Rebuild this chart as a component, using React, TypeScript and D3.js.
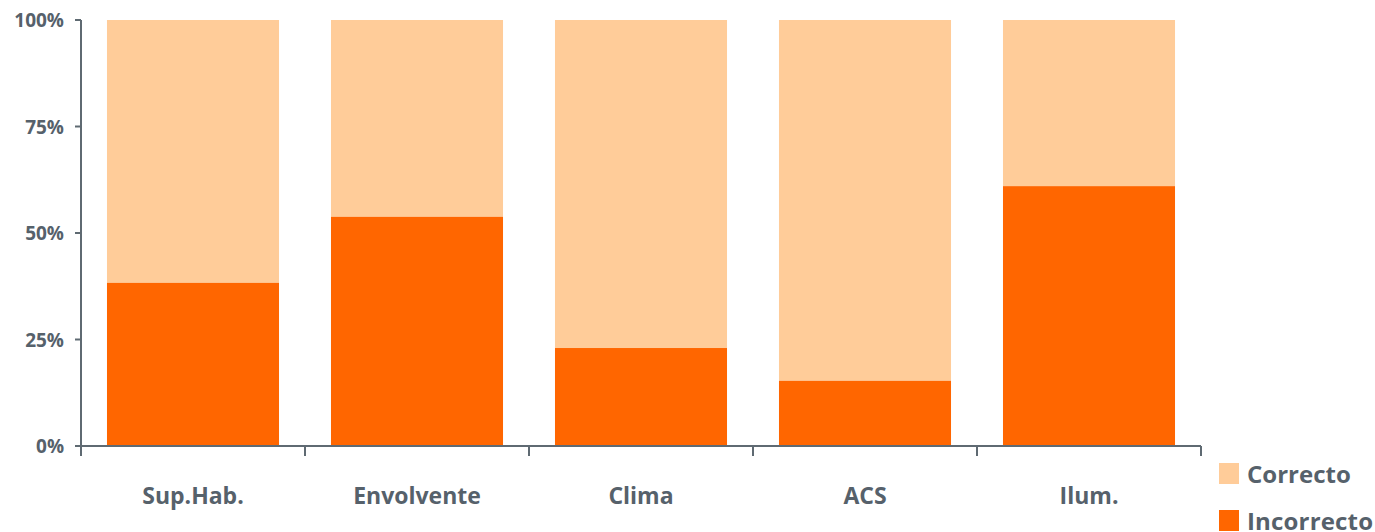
import React from 'react';
import * as d3 from 'd3';

const categories = ['Sup.Hab.', 'Envolvente', 'Clima', 'ACS', 'Ilum.'];
const incorrecto = [0.383, 0.538, 0.23, 0.153, 0.61];
const yTicks = [0, 0.25, 0.5, 0.75, 1];

const W = 1375;
const H = 532;
const left = 81;
const right = 1201;
const top = 20;
const bottom = 446;
const textColor = '#56616b';
const axisColor = '#5f6a72';
const colIncorrecto = '#ff6600';
const colCorrecto = '#ffcc99';

const App: React.FC = () => {
  const x = d3.scaleBand<string>().domain(categories).range([left, right]).paddingInner(0.232).paddingOuter(0.116);
  const y = d3.scaleLinear().domain([0, 1]).range([bottom, top]);
  const step = x.step();
  const boundaries = d3.range(categories.length + 1).map((i) => left + i * step);

  return (
    <svg width={W} height={H} style={{ position: 'absolute', left: 0, top: 0, fontFamily: '"Open Sans", sans-serif' }}>
      <rect width={W} height={H} fill="#fff" />
      {categories.map((c, i) => (
        <g key={c}>
          <rect x={x(c)} y={y(1)} width={x.bandwidth()} height={y(incorrecto[i]) - y(1)} fill={colCorrecto} />
          <rect x={x(c)} y={y(incorrecto[i])} width={x.bandwidth()} height={bottom - y(incorrecto[i])} fill={colIncorrecto} />
          <text x={(x(c) as number) + x.bandwidth() / 2} y={504} textAnchor="middle" fontSize={23} fontWeight="bold" fill={textColor}>
            {c}
          </text>
        </g>
      ))}
      <line x1={left} x2={left} y1={top} y2={bottom + 10} stroke={axisColor} strokeWidth={2} />
      <line x1={left - 6} x2={right} y1={bottom} y2={bottom} stroke={axisColor} strokeWidth={2} />
      {yTicks.map((t) => (
        <g key={t}>
          <line x1={left - 6} x2={left} y1={y(t)} y2={y(t)} stroke={axisColor} strokeWidth={2} />
          <text x={64} y={y(t) + 7} textAnchor="end" fontSize={19} fontWeight="bold" fill={textColor}>
            {d3.format('.0%')(t)}
          </text>
        </g>
      ))}
      {boundaries.map((b, i) => (
        <line key={i} x1={b} x2={b} y1={bottom} y2={bottom + 10} stroke={axisColor} strokeWidth={2} />
      ))}
      {[
        { label: 'Correcto', color: colCorrecto, yy: 463 },
        { label: 'Incorrecto', color: colIncorrecto, yy: 510 },
      ].map((l) => (
        <g key={l.label}>
          <rect x={1219} y={l.yy} width={20} height={21} fill={l.color} />
          <text x={1247} y={l.yy + 20} fontSize={24} fontWeight="bold" fill={textColor} textLength={l.label === 'Incorrecto' ? 126 : undefined}>
            {l.label}
          </text>
        </g>
      ))}
    </svg>
  );
};

export default App;
